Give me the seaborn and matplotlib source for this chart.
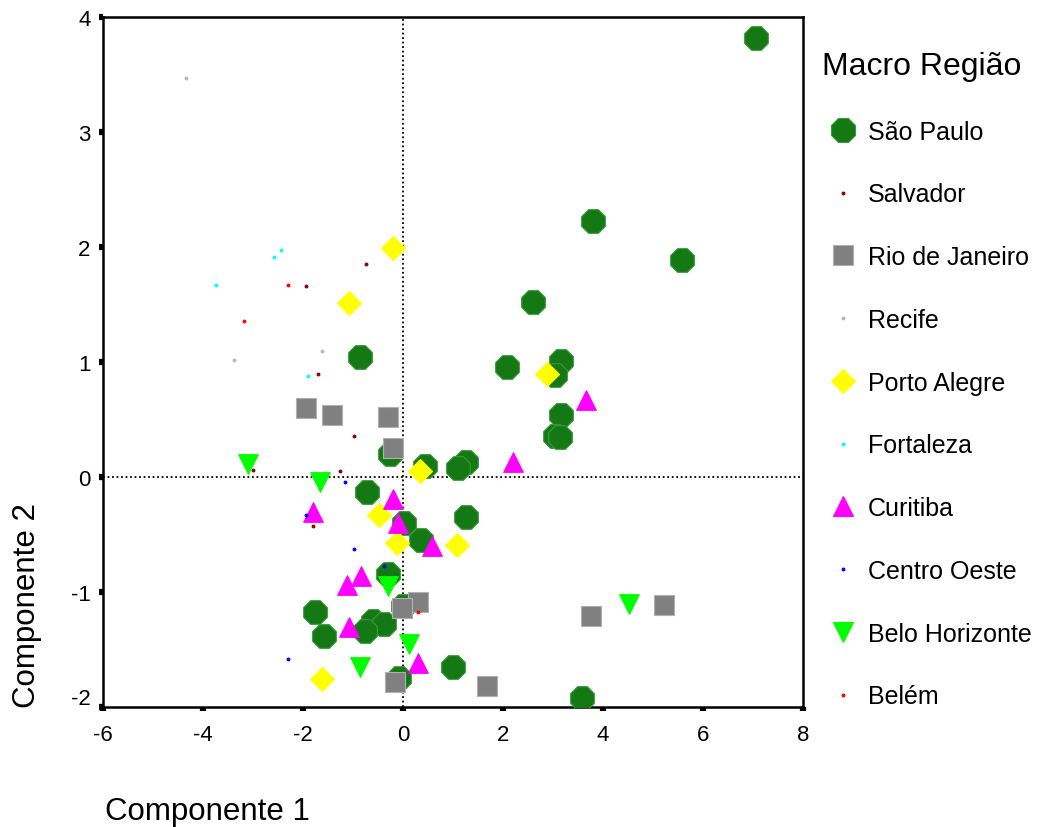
import matplotlib
matplotlib.use("Agg")
import matplotlib.pyplot as plt
import matplotlib.transforms as mtransforms
import seaborn as sns
import pandas as pd
from matplotlib.lines import Line2D

sns.set_style("white")
plt.rcParams['font.family'] = ['Liberation Sans', 'DejaVu Sans']
plt.rcParams['axes.unicode_minus'] = False
plt.rcParams['text.color'] = 'black'
plt.rcParams['axes.labelcolor'] = 'black'
plt.rcParams['xtick.color'] = 'black'
plt.rcParams['ytick.color'] = 'black'

regions = ["São Paulo", "Salvador", "Rio de Janeiro", "Recife", "Porto Alegre",
           "Fortaleza", "Curitiba", "Centro Oeste", "Belo Horizonte", "Belém"]

sp_x = [7.07, 3.81, 5.59, 2.61, 2.09, 3.17, 3.05, 3.16, 3.05, 3.15, -0.85, -0.26, 0.44,
        1.26, 1.10, 1.26, -0.72, 0.03, 0.36, -0.29, 0.00, -1.77, -1.58, -0.60, -0.38,
        -0.75, 1.00, -0.07, 3.58]
sp_y = [3.82, 2.23, 1.89, 1.52, 0.96, 1.01, 0.89, 0.54, 0.36, 0.35, 1.04, 0.20, 0.10,
        0.13, 0.08, -0.35, -0.13, -0.40, -0.55, -0.84, -1.12, -1.17, -1.38, -1.25, -1.28,
        -1.34, -1.65, -1.75, -1.92]

sa_x = [-0.74, -1.94, -1.71, -0.98, -3.00, -1.25, -1.80]
sa_y = [1.85, 1.66, 0.90, 0.36, 0.06, 0.05, -0.43]

rj_x = [-1.95, -1.42, -0.30, -0.20, 0.30, -0.02, -0.16, 1.68, 3.76, 5.23]
rj_y = [0.60, 0.54, 0.52, 0.25, -1.09, -1.14, -1.78, -1.82, -1.21, -1.11]

re_x = [-4.34, -1.62, -3.37]
re_y = [3.47, 1.10, 1.02]

pa_x = [-0.20, -1.08, 0.34, 2.88, -0.48, -0.11, 1.08, -1.63]
pa_y = [1.99, 1.51, 0.05, 0.90, -0.33, -0.57, -0.59, -1.76]

fo_x = [-2.44, -2.59, -3.74, -1.90]
fo_y = [1.97, 1.91, 1.67, 0.88]

cu_x = [3.66, 2.20, -0.20, -1.81, -0.10, 0.58, -0.84, -1.12, -1.08, 0.30]
cu_y = [0.67, 0.13, -0.19, -0.30, -0.40, -0.60, -0.86, -0.94, -1.30, -1.62]

co_x = [-1.16, -1.94, -0.97, -0.38, -2.31]
co_y = [-0.04, -0.33, -0.63, -0.77, -1.58]

bh_x = [-3.10, -1.67, -0.29, 0.12, -0.85, 4.53]
bh_y = [0.11, -0.04, -0.95, -1.45, -1.65, -1.10]

be_x = [-2.31, -3.18, 0.31]
be_y = [1.67, 1.36, -1.17]

series = {
    "São Paulo": (sp_x, sp_y),
    "Rio de Janeiro": (rj_x, rj_y),
    "Porto Alegre": (pa_x, pa_y),
    "Curitiba": (cu_x, cu_y),
    "Belo Horizonte": (bh_x, bh_y),
    "Salvador": (sa_x, sa_y),
    "Recife": (re_x, re_y),
    "Fortaleza": (fo_x, fo_y),
    "Centro Oeste": (co_x, co_y),
    "Belém": (be_x, be_y),
}

frames = []
for name, (xs, ys) in series.items():
    frames.append(pd.DataFrame({"c1": xs, "c2": ys, "Macro Região": name}))
df = pd.concat(frames, ignore_index=True)

palette = {"São Paulo": "#147814", "Salvador": "#8b0000", "Rio de Janeiro": "#808080",
           "Recife": "#b8b8b8", "Porto Alegre": "#ffff00", "Fortaleza": "#00ffff",
           "Curitiba": "#ff00ff", "Centro Oeste": "#0000ff", "Belo Horizonte": "#00ff00",
           "Belém": "#ff0000"}
markers = {"São Paulo": "8", "Salvador": "o", "Rio de Janeiro": "s", "Recife": "o",
           "Porto Alegre": "D", "Fortaleza": "o", "Curitiba": "^", "Centro Oeste": "o",
           "Belo Horizonte": "v", "Belém": "o"}
sizes = {"São Paulo": 340, "Salvador": 4, "Rio de Janeiro": 190, "Recife": 4,
         "Porto Alegre": 150, "Fortaleza": 4, "Curitiba": 200, "Centro Oeste": 4,
         "Belo Horizonte": 200, "Belém": 4}
edges = {"São Paulo": "#3a9a3a", "Rio de Janeiro": "#b0b0b0"}

fig = plt.figure(figsize=(10.39, 8.28), dpi=100)
ax = fig.add_axes([103/1039, 1 - 708/828, 700/1039, 690/828])

for name in series:
    sub = df[df["Macro Região"] == name]
    sns.scatterplot(data=sub, x="c1", y="c2", ax=ax, color=palette[name],
                    marker=markers[name], s=sizes[name],
                    edgecolor=edges.get(name, palette[name]), linewidth=0.8,
                    legend=False, zorder=3)

ax.axvline(0, color="black", linestyle=(0, (1, 1.5)), linewidth=1.3, zorder=1)
ax.axhline(0, color="black", linestyle=(0, (1, 1.5)), linewidth=1.3, zorder=1)

ax.set_xlim(-6, 8)
ax.set_ylim(-2, 4)
ax.set_xticks([-6, -4, -2, 0, 2, 4, 6, 8])
ax.set_yticks([-2, -1, 0, 1, 2, 3, 4])
ax.tick_params(axis="both", direction="out", length=3, width=4.5, labelsize=16,
               color="black", bottom=True, left=True)
ax.tick_params(axis="x", pad=9)
ax.tick_params(axis="y", pad=6)
for sp in ax.spines.values():
    sp.set_color("black")
    sp.set_linewidth(1.8)

# raise the lowest y tick label slightly, as in the original
fig.canvas.draw()
lowest = ax.get_yticklabels()[0]
lowest.set_transform(lowest.get_transform() +
                     mtransforms.ScaledTranslation(0, 0.11, fig.dpi_scale_trans))

ax.set_xlabel("Componente 1", fontsize=22.5, ha="left", va="center")
ax.xaxis.set_label_coords(0.003, -0.151)
ax.set_ylabel("Componente 2", fontsize=22.5, ha="center", va="center")
ax.yaxis.set_label_coords(-0.1086, 0.149)

handles = []
for name in regions:
    ms = sizes[name] ** 0.5
    handles.append(Line2D([], [], linestyle="", marker=markers[name], markersize=ms,
                          markerfacecolor=palette[name],
                          markeredgecolor=edges.get(name, palette[name]),
                          markeredgewidth=0.8))
leg = ax.legend(handles, regions, title="Macro Região", loc="upper left",
                bbox_to_anchor=(1.027, 0.951), frameon=False, fontsize=18,
                title_fontsize=23, labelspacing=1.55, handletextpad=0.17,
                handlelength=1.67, borderaxespad=0, borderpad=0)
leg._legend_box.align = "left"

fig.savefig("out.png", dpi=100)
